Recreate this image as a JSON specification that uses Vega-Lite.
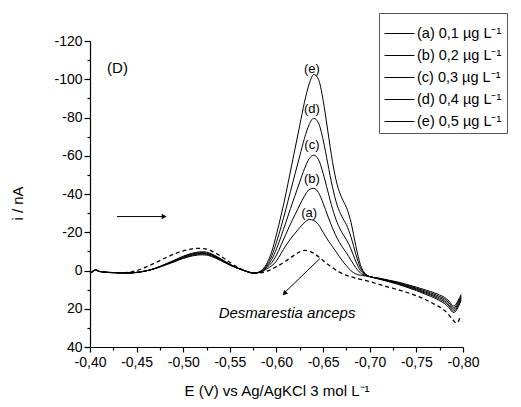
{
  "$schema": "https://vega.github.io/schema/vega-lite/v6.json",
  "width": 373,
  "height": 306,
  "autosize": {"type": "none"},
  "padding": {"left": 90, "top": 41, "right": 58, "bottom": 60},
  "background": "white",
  "config": {"view": {"stroke": null}, "font": "Liberation Sans"},
  "data": {"values": [
    {"s":"a","E":-0.4,"i":1.8},{"s":"a","E":-0.403,"i":0.5},{"s":"a","E":-0.406,"i":-0.3},{"s":"a","E":-0.41,"i":0.5},{"s":"a","E":-0.42,"i":1.0},{"s":"a","E":-0.43,"i":1.2},{"s":"a","E":-0.44,"i":1.3},{"s":"a","E":-0.45,"i":1.0},{"s":"a","E":-0.46,"i":0.2},{"s":"a","E":-0.47,"i":-1.2},{"s":"a","E":-0.48,"i":-3.2},{"s":"a","E":-0.49,"i":-5.3},{"s":"a","E":-0.5,"i":-7.5},{"s":"a","E":-0.51,"i":-9.1},{"s":"a","E":-0.515,"i":-9.6},{"s":"a","E":-0.52,"i":-9.8},{"s":"a","E":-0.525,"i":-9.6},{"s":"a","E":-0.53,"i":-8.8},{"s":"a","E":-0.54,"i":-6.2},{"s":"a","E":-0.55,"i":-3.3},{"s":"a","E":-0.56,"i":-1.0},{"s":"a","E":-0.57,"i":0.8},
    {"s":"a","E":-0.575,"i":1.4},{"s":"a","E":-0.58,"i":1.2},{"s":"a","E":-0.585,"i":0.5},{"s":"a","E":-0.59,"i":-1},{"s":"a","E":-0.595,"i":-2.5},{"s":"a","E":-0.6,"i":-5},{"s":"a","E":-0.605,"i":-9},{"s":"a","E":-0.61,"i":-13},{"s":"a","E":-0.615,"i":-16.5},{"s":"a","E":-0.62,"i":-19.5},{"s":"a","E":-0.625,"i":-22.5},{"s":"a","E":-0.63,"i":-25},{"s":"a","E":-0.635,"i":-26.7},{"s":"a","E":-0.64,"i":-26.2},{"s":"a","E":-0.645,"i":-24},{"s":"a","E":-0.65,"i":-20},{"s":"a","E":-0.655,"i":-16},{"s":"a","E":-0.66,"i":-12.5},{"s":"a","E":-0.665,"i":-9},{"s":"a","E":-0.67,"i":-5.5},{"s":"a","E":-0.675,"i":-2.5},{"s":"a","E":-0.68,"i":0.2},{"s":"a","E":-0.685,"i":1.8},{"s":"a","E":-0.69,"i":2.5},{"s":"a","E":-0.695,"i":2.8},
    {"s":"a","E":-0.7,"i":3.2},{"s":"a","E":-0.71,"i":4.5},{"s":"a","E":-0.72,"i":5.8},{"s":"a","E":-0.73,"i":7.2},{"s":"a","E":-0.74,"i":8.8},{"s":"a","E":-0.75,"i":10.5},{"s":"a","E":-0.76,"i":12.5},{"s":"a","E":-0.77,"i":14.5},{"s":"a","E":-0.775,"i":15.8},{"s":"a","E":-0.78,"i":17.2},{"s":"a","E":-0.785,"i":19.5},{"s":"a","E":-0.79,"i":22},{"s":"a","E":-0.795,"i":19},{"s":"a","E":-0.798,"i":15.5},

    {"s":"b","E":-0.4,"i":1.8},{"s":"b","E":-0.403,"i":0.5},{"s":"b","E":-0.406,"i":-0.3},{"s":"b","E":-0.41,"i":0.5},{"s":"b","E":-0.42,"i":1.0},{"s":"b","E":-0.43,"i":1.2},{"s":"b","E":-0.44,"i":1.3},{"s":"b","E":-0.45,"i":1.0},{"s":"b","E":-0.46,"i":0.2},{"s":"b","E":-0.47,"i":-1.15},{"s":"b","E":-0.48,"i":-3.07},{"s":"b","E":-0.49,"i":-5.09},{"s":"b","E":-0.5,"i":-7.2},{"s":"b","E":-0.51,"i":-8.74},{"s":"b","E":-0.515,"i":-9.22},{"s":"b","E":-0.52,"i":-9.41},{"s":"b","E":-0.525,"i":-9.22},{"s":"b","E":-0.53,"i":-8.45},{"s":"b","E":-0.54,"i":-5.95},{"s":"b","E":-0.55,"i":-3.17},{"s":"b","E":-0.56,"i":-0.96},{"s":"b","E":-0.57,"i":0.8},
    {"s":"b","E":-0.575,"i":1.4},{"s":"b","E":-0.58,"i":1.2},{"s":"b","E":-0.585,"i":0.3},{"s":"b","E":-0.59,"i":-1.7},{"s":"b","E":-0.595,"i":-4.2},{"s":"b","E":-0.6,"i":-8.1},{"s":"b","E":-0.605,"i":-13.4},{"s":"b","E":-0.61,"i":-18.9},{"s":"b","E":-0.615,"i":-24.3},{"s":"b","E":-0.62,"i":-29.3},{"s":"b","E":-0.625,"i":-34.3},{"s":"b","E":-0.63,"i":-38.9},{"s":"b","E":-0.635,"i":-42.3},{"s":"b","E":-0.64,"i":-43.0},{"s":"b","E":-0.645,"i":-40.7},{"s":"b","E":-0.65,"i":-35.2},{"s":"b","E":-0.655,"i":-28.5},{"s":"b","E":-0.66,"i":-22.3},{"s":"b","E":-0.665,"i":-16.9},{"s":"b","E":-0.67,"i":-12.7},{"s":"b","E":-0.675,"i":-9.2},{"s":"b","E":-0.68,"i":-5.3},{"s":"b","E":-0.685,"i":-1.5},{"s":"b","E":-0.69,"i":1.3},{"s":"b","E":-0.695,"i":2.5},
    {"s":"b","E":-0.7,"i":3.2},{"s":"b","E":-0.71,"i":4.4},{"s":"b","E":-0.72,"i":5.6},{"s":"b","E":-0.73,"i":6.9},{"s":"b","E":-0.74,"i":8.4},{"s":"b","E":-0.75,"i":10.1},{"s":"b","E":-0.76,"i":11.9},{"s":"b","E":-0.77,"i":13.8},{"s":"b","E":-0.775,"i":15.1},{"s":"b","E":-0.78,"i":16.4},{"s":"b","E":-0.785,"i":18.6},{"s":"b","E":-0.79,"i":21.2},{"s":"b","E":-0.795,"i":18.1},{"s":"b","E":-0.798,"i":14.8},

    {"s":"c","E":-0.4,"i":1.8},{"s":"c","E":-0.403,"i":0.5},{"s":"c","E":-0.406,"i":-0.3},{"s":"c","E":-0.41,"i":0.5},{"s":"c","E":-0.42,"i":1.0},{"s":"c","E":-0.43,"i":1.2},{"s":"c","E":-0.44,"i":1.3},{"s":"c","E":-0.45,"i":1.0},{"s":"c","E":-0.46,"i":0.2},{"s":"c","E":-0.47,"i":-1.1},{"s":"c","E":-0.48,"i":-2.94},{"s":"c","E":-0.49,"i":-4.88},{"s":"c","E":-0.5,"i":-6.9},{"s":"c","E":-0.51,"i":-8.37},{"s":"c","E":-0.515,"i":-8.83},{"s":"c","E":-0.52,"i":-9.02},{"s":"c","E":-0.525,"i":-8.83},{"s":"c","E":-0.53,"i":-8.1},{"s":"c","E":-0.54,"i":-5.7},{"s":"c","E":-0.55,"i":-3.04},{"s":"c","E":-0.56,"i":-0.92},{"s":"c","E":-0.57,"i":0.8},
    {"s":"c","E":-0.575,"i":1.4},{"s":"c","E":-0.58,"i":1.1},{"s":"c","E":-0.585,"i":0.1},{"s":"c","E":-0.59,"i":-2.3},{"s":"c","E":-0.595,"i":-5.9},{"s":"c","E":-0.6,"i":-11.3},{"s":"c","E":-0.605,"i":-17.9},{"s":"c","E":-0.61,"i":-25.1},{"s":"c","E":-0.615,"i":-32.4},{"s":"c","E":-0.62,"i":-39.4},{"s":"c","E":-0.625,"i":-46.4},{"s":"c","E":-0.63,"i":-53.2},{"s":"c","E":-0.635,"i":-58.4},{"s":"c","E":-0.64,"i":-60.3},{"s":"c","E":-0.645,"i":-58.0},{"s":"c","E":-0.65,"i":-50.8},{"s":"c","E":-0.655,"i":-41.5},{"s":"c","E":-0.66,"i":-32.4},{"s":"c","E":-0.665,"i":-25.1},{"s":"c","E":-0.67,"i":-20.0},{"s":"c","E":-0.675,"i":-16.1},{"s":"c","E":-0.68,"i":-11.1},{"s":"c","E":-0.685,"i":-4.8},{"s":"c","E":-0.69,"i":0.0},{"s":"c","E":-0.695,"i":2.2},
    {"s":"c","E":-0.7,"i":3.2},{"s":"c","E":-0.71,"i":4.3},{"s":"c","E":-0.72,"i":5.4},{"s":"c","E":-0.73,"i":6.6},{"s":"c","E":-0.74,"i":8.1},{"s":"c","E":-0.75,"i":9.6},{"s":"c","E":-0.76,"i":11.4},{"s":"c","E":-0.77,"i":13.2},{"s":"c","E":-0.775,"i":14.3},{"s":"c","E":-0.78,"i":15.6},{"s":"c","E":-0.785,"i":17.8},{"s":"c","E":-0.79,"i":20.3},{"s":"c","E":-0.795,"i":17.3},{"s":"c","E":-0.798,"i":14.0},

    {"s":"d","E":-0.4,"i":1.8},{"s":"d","E":-0.403,"i":0.5},{"s":"d","E":-0.406,"i":-0.3},{"s":"d","E":-0.41,"i":0.5},{"s":"d","E":-0.42,"i":1.0},{"s":"d","E":-0.43,"i":1.2},{"s":"d","E":-0.44,"i":1.3},{"s":"d","E":-0.45,"i":1.0},{"s":"d","E":-0.46,"i":0.2},{"s":"d","E":-0.47,"i":-1.06},{"s":"d","E":-0.48,"i":-2.82},{"s":"d","E":-0.49,"i":-4.66},{"s":"d","E":-0.5,"i":-6.6},{"s":"d","E":-0.51,"i":-8.0},{"s":"d","E":-0.515,"i":-8.45},{"s":"d","E":-0.52,"i":-8.62},{"s":"d","E":-0.525,"i":-8.45},{"s":"d","E":-0.53,"i":-7.74},{"s":"d","E":-0.54,"i":-5.46},{"s":"d","E":-0.55,"i":-2.9},{"s":"d","E":-0.56,"i":-0.88},{"s":"d","E":-0.57,"i":0.8},
    {"s":"d","E":-0.575,"i":1.4},{"s":"d","E":-0.58,"i":1.1},{"s":"d","E":-0.585,"i":-0.2},{"s":"d","E":-0.59,"i":-3.1},{"s":"d","E":-0.595,"i":-7.8},{"s":"d","E":-0.6,"i":-14.8},{"s":"d","E":-0.605,"i":-23.0},{"s":"d","E":-0.61,"i":-31.9},{"s":"d","E":-0.615,"i":-41.4},{"s":"d","E":-0.62,"i":-50.7},{"s":"d","E":-0.625,"i":-60.0},{"s":"d","E":-0.63,"i":-69.1},{"s":"d","E":-0.635,"i":-76.3},{"s":"d","E":-0.64,"i":-79.6},{"s":"d","E":-0.645,"i":-77.2},{"s":"d","E":-0.65,"i":-68.3},{"s":"d","E":-0.655,"i":-55.9},{"s":"d","E":-0.66,"i":-43.7},{"s":"d","E":-0.665,"i":-34.2},{"s":"d","E":-0.67,"i":-28.3},{"s":"d","E":-0.675,"i":-23.9},{"s":"d","E":-0.68,"i":-17.4},{"s":"d","E":-0.685,"i":-8.6},{"s":"d","E":-0.69,"i":-1.4},{"s":"d","E":-0.695,"i":1.9},
    {"s":"d","E":-0.7,"i":3.2},{"s":"d","E":-0.71,"i":4.1},{"s":"d","E":-0.72,"i":5.2},{"s":"d","E":-0.73,"i":6.3},{"s":"d","E":-0.74,"i":7.7},{"s":"d","E":-0.75,"i":9.2},{"s":"d","E":-0.76,"i":10.8},{"s":"d","E":-0.77,"i":12.5},{"s":"d","E":-0.775,"i":13.6},{"s":"d","E":-0.78,"i":14.8},{"s":"d","E":-0.785,"i":16.9},{"s":"d","E":-0.79,"i":19.5},{"s":"d","E":-0.795,"i":16.4},{"s":"d","E":-0.798,"i":13.3},

    {"s":"e","E":-0.4,"i":1.8},{"s":"e","E":-0.403,"i":0.5},{"s":"e","E":-0.406,"i":-0.3},{"s":"e","E":-0.41,"i":0.5},{"s":"e","E":-0.42,"i":1.0},{"s":"e","E":-0.43,"i":1.2},{"s":"e","E":-0.44,"i":1.3},{"s":"e","E":-0.45,"i":1.0},{"s":"e","E":-0.46,"i":0.2},{"s":"e","E":-0.47,"i":-1.0},{"s":"e","E":-0.48,"i":-2.69},{"s":"e","E":-0.49,"i":-4.45},{"s":"e","E":-0.5,"i":-6.3},{"s":"e","E":-0.51,"i":-7.64},{"s":"e","E":-0.515,"i":-8.06},{"s":"e","E":-0.52,"i":-8.23},{"s":"e","E":-0.525,"i":-8.06},{"s":"e","E":-0.53,"i":-7.39},{"s":"e","E":-0.54,"i":-5.21},{"s":"e","E":-0.55,"i":-2.77},{"s":"e","E":-0.56,"i":-0.84},{"s":"e","E":-0.57,"i":0.8},
    {"s":"e","E":-0.575,"i":1.4},{"s":"e","E":-0.58,"i":1.0},{"s":"e","E":-0.585,"i":-0.5},{"s":"e","E":-0.59,"i":-4},{"s":"e","E":-0.595,"i":-10},{"s":"e","E":-0.6,"i":-19},{"s":"e","E":-0.605,"i":-29},{"s":"e","E":-0.61,"i":-40},{"s":"e","E":-0.615,"i":-52},{"s":"e","E":-0.62,"i":-64},{"s":"e","E":-0.625,"i":-76},{"s":"e","E":-0.63,"i":-88},{"s":"e","E":-0.635,"i":-97.5},{"s":"e","E":-0.64,"i":-102.5},{"s":"e","E":-0.645,"i":-100},{"s":"e","E":-0.65,"i":-89},{"s":"e","E":-0.655,"i":-73},{"s":"e","E":-0.66,"i":-57},{"s":"e","E":-0.665,"i":-45},{"s":"e","E":-0.67,"i":-38},{"s":"e","E":-0.675,"i":-33},{"s":"e","E":-0.68,"i":-25},{"s":"e","E":-0.685,"i":-13},{"s":"e","E":-0.69,"i":-3},{"s":"e","E":-0.695,"i":1.5},
    {"s":"e","E":-0.7,"i":3.2},{"s":"e","E":-0.71,"i":4.0},{"s":"e","E":-0.72,"i":5.0},{"s":"e","E":-0.73,"i":6.0},{"s":"e","E":-0.74,"i":7.3},{"s":"e","E":-0.75,"i":8.7},{"s":"e","E":-0.76,"i":10.2},{"s":"e","E":-0.77,"i":11.8},{"s":"e","E":-0.775,"i":12.8},{"s":"e","E":-0.78,"i":14.0},{"s":"e","E":-0.785,"i":16.0},{"s":"e","E":-0.79,"i":18.6},{"s":"e","E":-0.795,"i":15.5},{"s":"e","E":-0.798,"i":12.5},

    {"s":"D","E":-0.4,"i":1.5},{"s":"D","E":-0.403,"i":0.3},{"s":"D","E":-0.406,"i":-0.3},{"s":"D","E":-0.41,"i":0.5},{"s":"D","E":-0.42,"i":1.0},{"s":"D","E":-0.43,"i":1.2},{"s":"D","E":-0.44,"i":1.0},{"s":"D","E":-0.45,"i":0.0},{"s":"D","E":-0.46,"i":-1.8},{"s":"D","E":-0.47,"i":-4.0},{"s":"D","E":-0.48,"i":-6.4},{"s":"D","E":-0.49,"i":-8.6},{"s":"D","E":-0.5,"i":-10.3},{"s":"D","E":-0.51,"i":-11.3},{"s":"D","E":-0.515,"i":-11.6},{"s":"D","E":-0.52,"i":-11.5},{"s":"D","E":-0.525,"i":-11.2},{"s":"D","E":-0.53,"i":-10.3},{"s":"D","E":-0.54,"i":-7.6},{"s":"D","E":-0.55,"i":-4.2},{"s":"D","E":-0.56,"i":-1.3},{"s":"D","E":-0.57,"i":0.7},{"s":"D","E":-0.575,"i":1.3},{"s":"D","E":-0.58,"i":1.3},{"s":"D","E":-0.59,"i":0.3},{"s":"D","E":-0.6,"i":-2.0},{"s":"D","E":-0.61,"i":-5.0},{"s":"D","E":-0.62,"i":-8.3},{"s":"D","E":-0.625,"i":-9.8},{"s":"D","E":-0.63,"i":-10.5},{"s":"D","E":-0.635,"i":-10.2},{"s":"D","E":-0.64,"i":-9.0},{"s":"D","E":-0.645,"i":-7.2},{"s":"D","E":-0.65,"i":-5.2},{"s":"D","E":-0.66,"i":-1.5},{"s":"D","E":-0.67,"i":1.5},{"s":"D","E":-0.68,"i":3.3},{"s":"D","E":-0.69,"i":4.6},{"s":"D","E":-0.7,"i":5.8},{"s":"D","E":-0.71,"i":7.3},{"s":"D","E":-0.72,"i":8.7},{"s":"D","E":-0.73,"i":10.0},{"s":"D","E":-0.74,"i":11.5},{"s":"D","E":-0.75,"i":13.2},{"s":"D","E":-0.76,"i":15.3},{"s":"D","E":-0.77,"i":17.8},{"s":"D","E":-0.78,"i":20.8},{"s":"D","E":-0.785,"i":23.3},{"s":"D","E":-0.79,"i":26.3},{"s":"D","E":-0.793,"i":27.5},{"s":"D","E":-0.797,"i":24.5}
  ]},
  "encoding": {
    "x": {"field": "E", "type": "quantitative",
      "scale": {"domain": [-0.8, -0.4], "reverse": true, "nice": false, "zero": false},
      "axis": {
        "values": [-0.4,-0.425,-0.45,-0.475,-0.5,-0.525,-0.55,-0.575,-0.6,-0.625,-0.65,-0.675,-0.7,-0.725,-0.75,-0.775,-0.8],
        "title": "E (V) vs Ag/AgKCl 3 mol L⁻¹",
        "labelExpr": "abs(datum.value*20 - round(datum.value*20)) < 0.01 ? '-' + replace(format(abs(datum.value), '.2f'), '.', ',') : ''",
        "tickSize": {"condition": {"test": "abs(datum.value*20 - round(datum.value*20)) < 0.01", "value": 5}, "value": 3},
        "grid": false, "domainColor": "black", "tickColor": "black", "labelColor": "black", "titleColor": "black",
        "domainWidth": 1.2, "tickWidth": 1.2,
        "labelFont": "Liberation Sans", "labelFontSize": 14, "labelPadding": 3, "labelOverlap": false, "labelFlush": false,
        "titleFont": "Liberation Sans", "titleFontSize": 15, "titleFontWeight": "normal", "titlePadding": 14
      }
    },
    "y": {"field": "i", "type": "quantitative",
      "scale": {"domain": [-120, 40], "reverse": true, "nice": false, "zero": false},
      "axis": {
        "values": [-120,-110,-100,-90,-80,-70,-60,-50,-40,-30,-20,-10,0,10,20,30,40],
        "title": "i / nA",
        "labelExpr": "datum.value % 20 == 0 ? '' + datum.value : ''",
        "tickSize": {"condition": {"test": "datum.value % 20 == 0", "value": 6}, "value": 3},
        "grid": false, "domainColor": "black", "tickColor": "black", "labelColor": "black", "titleColor": "black",
        "domainWidth": 1.2, "tickWidth": 1.2,
        "labelFont": "Liberation Sans", "labelFontSize": 14, "labelPadding": 2, "labelOverlap": false, "labelFlush": false,
        "titleFont": "Liberation Sans", "titleFontSize": 15, "titleFontWeight": "normal", "titlePadding": 28, "titleY": 162
      }
    }
  },
  "layer": [
    {
      "transform": [{"filter": "datum.s != 'D'"}],
      "mark": {"type": "line", "strokeWidth": 1, "interpolate": "monotone"},
      "encoding": {
        "stroke": {"field": "s", "type": "nominal",
          "scale": {"domain": ["a","b","c","d","e"], "range": ["black","black","black","black","black"]},
          "legend": {
            "orient": "none", "legendX": 289, "legendY": -28, "title": null,
            "symbolType": "stroke", "symbolSize": 900, "symbolStrokeWidth": 1,
            "labelFont": "Liberation Sans", "labelFontSize": 14.5, "labelColor": "black", "labelOffset": 2, "labelLimit": 300,
            "rowPadding": -8.5, "padding": 5, "strokeColor": "#555", "fillColor": "white",
            "labelExpr": "'(' + datum.label + ') 0,' + (indexof('abcde', datum.label) + 1) + ' µg L⁻¹'"
          }
        }
      }
    },
    {
      "transform": [{"filter": "datum.s == 'D'"}],
      "mark": {"type": "line", "strokeWidth": 1.3, "strokeDash": [4, 3], "color": "black", "interpolate": "monotone"}
    },
    {
      "data": {"values": [
        {"E": -0.4295, "i": -106, "t": "(D)"}
      ]},
      "mark": {"type": "text", "font": "Liberation Sans", "fontSize": 15, "color": "black", "baseline": "middle", "align": "center"},
      "encoding": {"text": {"field": "t"}}
    },
    {
      "data": {"values": [
        {"E": -0.638, "i": -105.6, "t": "(e)"},
        {"E": -0.638, "i": -84.7, "t": "(d)"},
        {"E": -0.638, "i": -65.4, "t": "(c)"},
        {"E": -0.638, "i": -48.1, "t": "(b)"},
        {"E": -0.635, "i": -30.3, "t": "(a)"}
      ]},
      "mark": {"type": "text", "font": "Liberation Sans", "fontSize": 13, "color": "black", "baseline": "middle", "align": "center"},
      "encoding": {"text": {"field": "t"}}
    },
    {
      "data": {"values": [
        {"E": -0.6113, "i": 24.6, "t": "Desmarestia anceps"}
      ]},
      "mark": {"type": "text", "font": "Liberation Sans", "fontSize": 15, "fontStyle": "italic", "color": "black", "baseline": "alphabetic", "align": "center"},
      "encoding": {"text": {"field": "t"}}
    },
    {
      "data": {"values": [
        {"E": -0.429, "i": -28.2, "E2": -0.4783, "i2": -28.2},
        {"E": -0.6467, "i": -6.3, "E2": -0.6095, "i2": 11.2}
      ]},
      "mark": {"type": "rule", "color": "black", "strokeWidth": 1},
      "encoding": {"x2": {"field": "E2"}, "y2": {"field": "i2"}}
    },
    {
      "data": {"values": [{"E": -0.4795, "i": -28.2}]},
      "mark": {"type": "point", "shape": "triangle-up", "angle": 90, "filled": true, "color": "black", "size": 30, "opacity": 1}
    },
    {
      "data": {"values": [{"E": -0.6085, "i": 12.0}]},
      "mark": {"type": "point", "shape": "triangle-up", "angle": 225, "filled": true, "color": "black", "size": 30, "opacity": 1}
    }
  ]
}
